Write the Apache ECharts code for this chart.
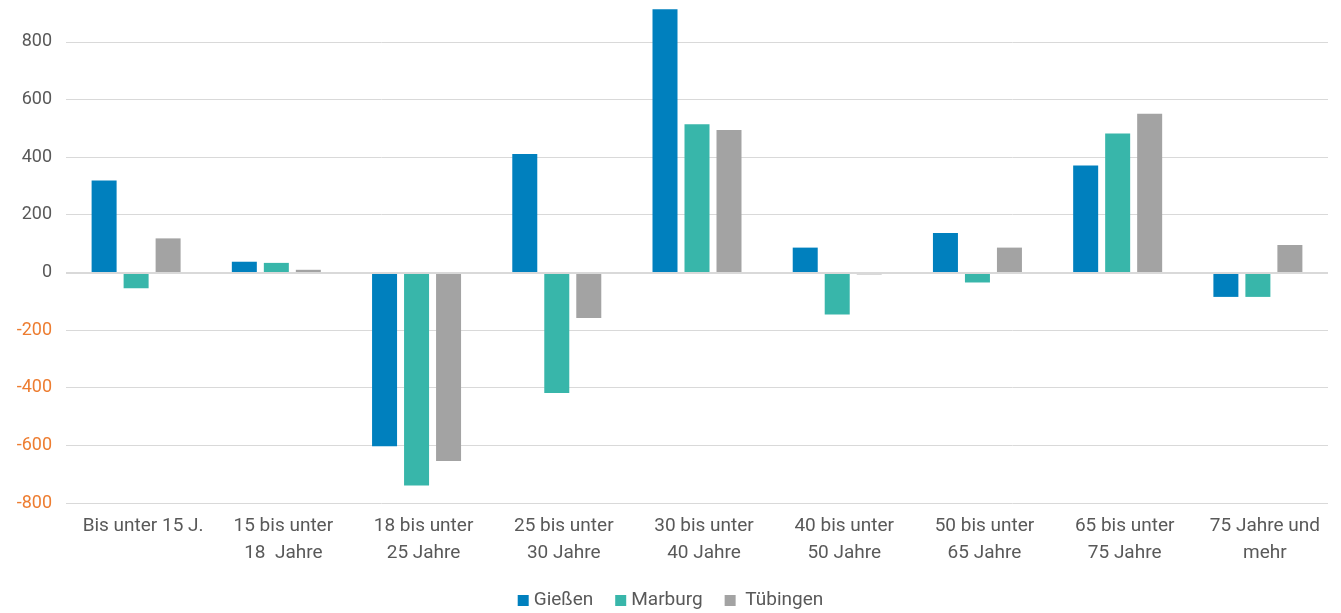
<!DOCTYPE html>
<html>
<head>
<meta charset="utf-8">
<script src="https://cdn.jsdelivr.net/npm/echarts@6/dist/echarts.min.js"></script>
<style>
html,body{margin:0;padding:0;background:#fff;}
#chart{width:1341px;height:613px;}
</style>
</head>
<body>
<div id="chart"></div>
<script>
const categories = [
  "Bis unter 15 J.",
  "15 bis unter\n18  Jahre",
  "18 bis unter\n25 Jahre",
  "25 bis unter\n30 Jahre",
  "30 bis unter\n40 Jahre",
  "40 bis unter\n50 Jahre",
  "50 bis unter\n65 Jahre",
  "65 bis unter\n75 Jahre",
  "75 Jahre und\nmehr"
];
const giessen  = [319, 37, -603, 411, 913, 86, 137, 371, -85];
const marburg  = [-55, 33, -739, -418, 514, -146, -35, 482, -85];
const tuebingen = [118, 9, -654, -158, 494, -7, 86, 550, 95];
const seriesNames = ["Gießen", "Marburg", "Tübingen"];
const colors = ["#0080BE", "#38B6AA", "#A3A3A3"];
const yMin = -800, yMax = 945, yStep = 200;

const FONT = "Roboto";
const chart = echarts.init(document.getElementById('chart'), null, {renderer: 'canvas'});
const mk = (name, data, color) => ({
  name: name,
  type: 'bar',
  data: data,
  barWidth: 25,
  barGap: '28%',
  z: 3,
  itemStyle: {color: color},
  animation: false
});

chart.setOption({
  animation: false,
  color: colors,
  textStyle: {fontFamily: FONT},
  grid: {left: 66, right: 13, top: 0, bottom: 110, containLabel: false},
  legend: {
    data: seriesNames,
    top: 586,
    left: 'center',
    icon: 'rect',
    itemWidth: 11,
    itemHeight: 11,
    itemGap: 22,
    formatter: function (n) { return n === 'Tübingen' ? ' ' + n : n; },
    textStyle: {fontFamily: FONT, fontSize: 19, color: '#595959'}
  },
  xAxis: {
    type: 'category',
    data: categories,
    axisLine: {show: false, onZero: false},
    axisTick: {show: false},
    axisLabel: {
      interval: 0,
      margin: 10,
      fontFamily: FONT,
      fontSize: 19,
      lineHeight: 27,
      color: '#595959',
      padding: [0, 0, 0, 14]
    }
  },
  yAxis: {
    type: 'value',
    min: yMin,
    max: yMax,
    interval: yStep,
    axisLine: {show: false},
    axisTick: {show: false},
    splitLine: {showMaxLine: false, lineStyle: {color: '#D9D9D9', width: 1}},
    axisLabel: {
      margin: 14,
      fontFamily: FONT,
      fontSize: 18,
      showMaxLabel: false,
      formatter: function (v) { return v % yStep === 0 ? String(v) : ''; },
      color: function (v) { return v < 0 ? '#ED7D31' : '#595959'; }
    }
  },
  series: [
    mk(seriesNames[0], giessen, colors[0]),
    mk(seriesNames[1], marburg, colors[1]),
    mk(seriesNames[2], tuebingen, colors[2]),
    {
      name: 'zero',
      type: 'line',
      data: [],
      z: 1,
      silent: true,
      markLine: {
        silent: true,
        symbol: ['none', 'none'],
        label: {show: false},
        lineStyle: {color: '#D9D9D9', width: 2, type: 'solid'},
        data: [{yAxis: 0}],
        animation: false
      }
    }
  ]
});
</script>
</body>
</html>
